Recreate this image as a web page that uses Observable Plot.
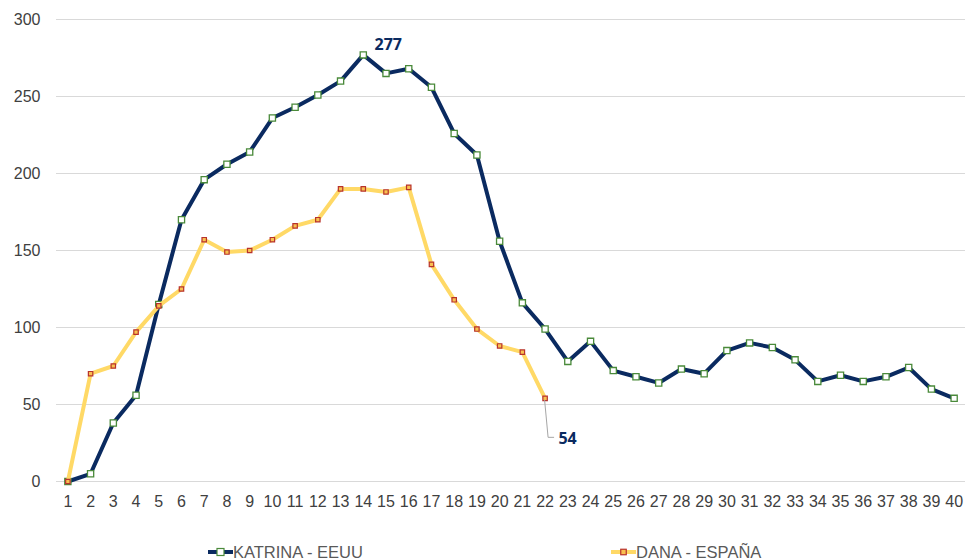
<!DOCTYPE html>
<html>
<head>
<meta charset="utf-8">
<script src="https://cdn.jsdelivr.net/npm/d3@7"></script>
<script src="https://cdn.jsdelivr.net/npm/@observablehq/plot@0.6"></script>
<style>
  html, body { margin: 0; padding: 0; background: #fff; }
  body { width: 965px; height: 560px; overflow: hidden; font-family: "Liberation Sans", Arial, sans-serif; }
  #legend { position: relative; height: 30px; }
  .item { position: absolute; top: 14px; height: 16px; font-size: 16.5px; line-height: 16px; color: #595959; white-space: nowrap; }
  .item svg { position: absolute; top: 2px; }
  .item span { position: absolute; top: 0; white-space: nowrap; }
</style>
</head>
<body>
<div id="chart"></div>
<div id="legend"></div>
<script>
// ---- data ----
const days = [1,2,3,4,5,6,7,8,9,10,11,12,13,14,15,16,17,18,19,20,21,22,23,24,25,26,27,28,29,30,31,32,33,34,35,36,37,38,39,40];
const katrina = [0,5,38,56,115,170,196,206,214,236,243,251,260,277,265,268,256,226,212,156,116,99,78,91,72,68,64,73,70,85,90,87,79,65,69,65,68,74,60,54];
const dana = [0,70,75,97,114,125,157,149,150,157,166,170,190,190,188,191,141,118,99,88,84,54];
const seriesNames = ["KATRINA - EEUU", "DANA - ESPAÑA"];
const yTicks = [0,50,100,150,200,250,300];

// ---- styles ----
const navy = "#0a2a60";
const green = "#4a8a3a";
const gold = "#ffd966";
const danaFill = "#f8c050";
const danaStroke = "#b8322c";

const K = katrina.map((v, i) => ({day: days[i], value: v}));
const D = dana.map((v, i) => ({day: days[i], value: v}));

const leader = (index, scales) => {
  const last = D[D.length - 1];
  const px = scales.x(last.day), py = scales.y(last.value);
  const g = d3.create("svg:g");
  g.append("path")
    .attr("d", `M${px},${py + 2}L${px + 3.5},${py + 39.5}L${px + 9.5},${py + 39.5}`)
    .attr("fill", "none")
    .attr("stroke", "#a6a6a6")
    .attr("stroke-width", 1);
  return g.node();
};

const chart = Plot.plot({
  width: 965,
  height: 530,
  marginLeft: 56,
  marginRight: 0,
  marginTop: 19,
  marginBottom: 49,
  style: {fontFamily: "'Liberation Sans', Arial, sans-serif", fontSize: "16px", color: "#404040", background: "#fff", overflow: "visible"},
  x: {domain: [0.5, 40.5], ticks: days, tickFormat: d => String(d), tickSize: 0, tickPadding: 14, label: null},
  y: {domain: [0, 300], ticks: yTicks, tickSize: 0, tickPadding: 16, label: null},
  marks: [
    Plot.ruleY(yTicks, {stroke: "#d9d9d9", strokeWidth: 1.2}),
    Plot.line(K, {x: "day", y: "value", stroke: navy, strokeWidth: 4, strokeLinejoin: "round", strokeLinecap: "round"}),
    Plot.dot(K, {x: "day", y: "value", symbol: "square", r: 3.5, fill: "white", stroke: green, strokeWidth: 1.3}),
    Plot.line(D, {x: "day", y: "value", stroke: gold, strokeWidth: 4, strokeLinejoin: "round", strokeLinecap: "round"}),
    Plot.dot(D, {x: "day", y: "value", symbol: "square", r: 2.5, fill: danaFill, stroke: danaStroke, strokeWidth: 1.2}),
    Plot.text(K, Plot.selectMaxY({x: "day", y: "value", text: d => String(d.value), dx: 25, dy: -10,
      fill: navy, fontWeight: "bold", fontSize: 16, fontFamily: "'Open Sans', sans-serif"})),
    Plot.text(D, Plot.selectLast({x: "day", y: "value", text: d => String(d.value), dx: 22.5, dy: 40.5,
      fill: navy, fontWeight: "bold", fontSize: 16, fontFamily: "'Open Sans', sans-serif"})),
    leader
  ]
});
document.getElementById("chart").appendChild(chart);

// ---- legend ----
const legend = d3.select("#legend");
const items = [
  {name: seriesNames[0], left: 208, line: navy, fill: "white", stroke: green, size: 7},
  {name: seriesNames[1], left: 611, line: gold, fill: danaFill, stroke: danaStroke, size: 5.5}
];
items.forEach(it => {
  const div = legend.append("div").attr("class", "item").style("left", it.left + "px");
  const s = div.append("svg").attr("width", 26).attr("height", 12);
  s.append("line").attr("x1", 0).attr("x2", 25).attr("y1", 6).attr("y2", 6)
    .attr("stroke", it.line).attr("stroke-width", 4);
  s.append("rect").attr("x", 12.5 - it.size / 2).attr("y", 6 - it.size / 2)
    .attr("width", it.size).attr("height", it.size)
    .attr("fill", it.fill).attr("stroke", it.stroke).attr("stroke-width", 1.2);
  div.append("span").style("left", "25px").text(it.name);
});
</script>
</body>
</html>
